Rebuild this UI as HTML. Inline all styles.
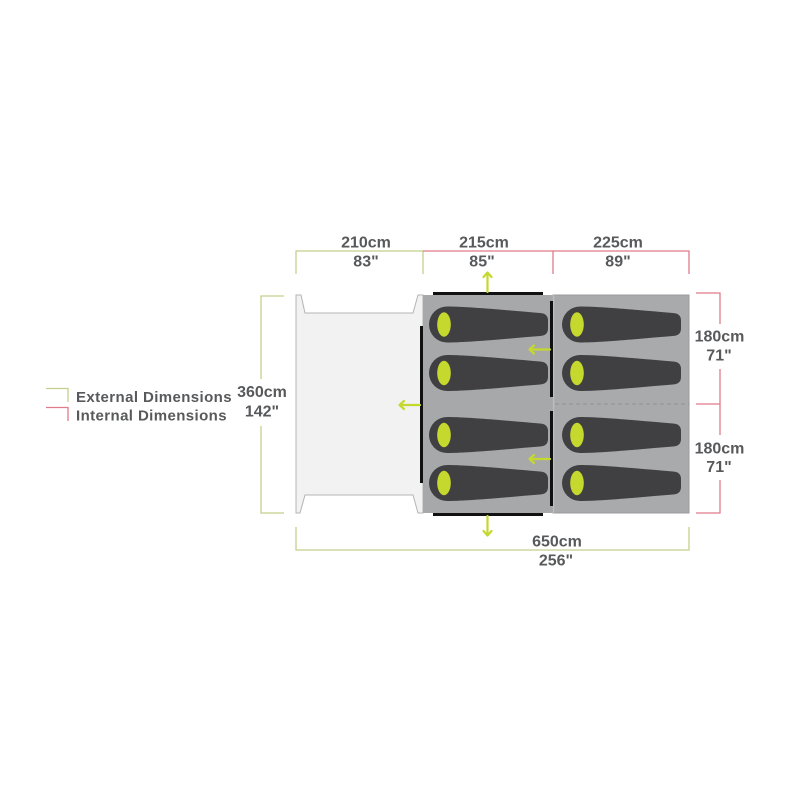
<!DOCTYPE html>
<html><head><meta charset="utf-8"><style>
html,body{margin:0;padding:0;background:#fff;}
svg{display:block;}
text{font-family:"Liberation Sans",sans-serif;font-weight:bold;fill:#58595b;}
</style></head><body>
<svg width="800" height="800" viewBox="0 0 800 800" xmlns="http://www.w3.org/2000/svg">
<defs>
<g id="bag">
<path d="M18,-18 C40,-18 80,-14 111,-11.5 Q119,-11 119,-4 L119,4 Q119,11 111,11.5 C80,14 40,18 18,18 A18,18 0 0 1 18,-18 Z" fill="#404042"/>
<ellipse cx="15" cy="0" rx="6.8" ry="12.2" fill="#c5d82e"/>
</g>
</defs>
<rect width="800" height="800" fill="#fff"/>

<!-- vestibule -->
<path d="M296,295 L301,295 L305,313 L413,313 L418,295 L423,295 L423,513 L418,513 L413,495 L305,495 L300,513 L296,513 Z" fill="#f2f2f2" stroke="#b4b4b4" stroke-width="1"/>

<!-- inner rooms -->
<rect x="423" y="295" width="130" height="218" fill="#a7a8aa"/>
<rect x="553" y="295" width="136" height="218" fill="#a9aaac" stroke="#9a9b9d" stroke-width="1"/>
<line x1="553.5" y1="295" x2="553.5" y2="513" stroke="#bdbec0" stroke-width="1.5"/>
<line x1="555" y1="404" x2="689" y2="404" stroke="#8f9092" stroke-width="1" stroke-dasharray="4,3"/>

<!-- black door bars -->
<rect x="433" y="292" width="110" height="3" fill="#111"/>
<rect x="433" y="513" width="110" height="3" fill="#111"/>
<rect x="420" y="326" width="3" height="157" fill="#111"/>
<rect x="550" y="301" width="3" height="96" fill="#111"/>
<rect x="550" y="411" width="3" height="95" fill="#111"/>

<!-- bags -->
<use href="#bag" x="429" y="324.5"/>
<use href="#bag" x="429" y="373"/>
<use href="#bag" x="429" y="435"/>
<use href="#bag" x="429" y="483"/>
<use href="#bag" x="562" y="324.5"/>
<use href="#bag" x="562" y="373"/>
<use href="#bag" x="562" y="435"/>
<use href="#bag" x="562" y="483"/>

<!-- arrows -->
<g stroke="#c5d82e" stroke-width="2.2" fill="none" stroke-linecap="round" stroke-linejoin="round">
<line x1="487.5" y1="292" x2="487.5" y2="273"/><polyline points="483.5,277 487.5,272.5 491.5,277"/>
<line x1="487.5" y1="516" x2="487.5" y2="535"/><polyline points="483.5,531 487.5,535.5 491.5,531"/>
<line x1="420" y1="405" x2="400" y2="405"/><polyline points="404,401 399.5,405 404,409"/>
<line x1="550" y1="349.5" x2="530" y2="349.5"/><polyline points="534,345.5 529.5,349.5 534,353.5"/>
<line x1="550" y1="459" x2="530" y2="459"/><polyline points="534,455 529.5,459 534,463"/>
</g>

<!-- dimension lines -->
<g fill="none" stroke-width="1.3">
<polyline points="296,274 296,251 423,251 423,274" stroke="#c5cf8c"/>
<polyline points="423,251 553,251 553,274" stroke="#e07b8b"/>
<polyline points="553,251 689,251 689,274" stroke="#e07b8b"/>
<polyline points="296,527 296,550 689,550 689,527" stroke="#c5cf8c"/>
<polyline points="284,296 261,296 261,379" stroke="#c5cf8c"/>
<polyline points="261,426 261,513 284,513" stroke="#c5cf8c"/>
<polyline points="696,293 720,293 720,324" stroke="#e07b8b"/>
<polyline points="720,369 720,404 696,404" stroke="#e07b8b"/>
<polyline points="720,404 720,435" stroke="#e07b8b"/>
<polyline points="720,480 720,513 696,513" stroke="#e07b8b"/>
<polyline points="46,388.5 68,388.5 68,402" stroke="#c5cf8c"/>
<polyline points="46,407.5 68,407.5 68,421" stroke="#e07b8b"/>
</g>

<!-- labels -->
<g font-size="16" text-anchor="middle">
<text x="366" y="247.5">210cm</text>
<text x="366" y="266.5">83"</text>
<text x="484" y="247.5">215cm</text>
<text x="482" y="266.5">85"</text>
<text x="618" y="247.5">225cm</text>
<text x="618" y="266.5">89"</text>
<text x="719.5" y="341.5">180cm</text>
<text x="719" y="360.5">71"</text>
<text x="719.5" y="453.5">180cm</text>
<text x="719" y="472">71"</text>
<text x="557" y="546.5">650cm</text>
<text x="556" y="565.5">256"</text>
<text x="262" y="397">360cm</text>
<text x="262" y="416.5">142"</text>
</g>
<g font-size="15" letter-spacing="0.4">
<text x="76" y="402">External Dimensions</text>
<text x="76" y="420.5">Internal Dimensions</text>
</g>
</svg>
</body></html>
